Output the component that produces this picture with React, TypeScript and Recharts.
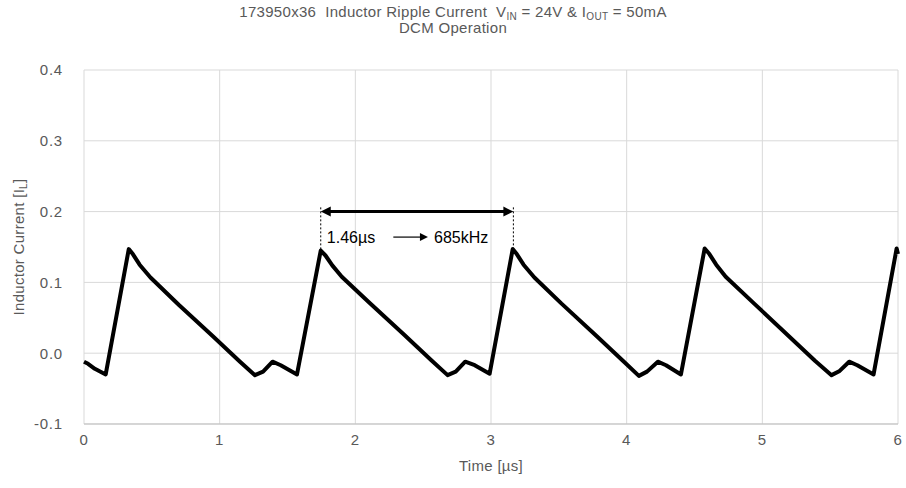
import React from "react";
import { LineChart, Line, XAxis, YAxis, CartesianGrid, ReferenceLine, ReferenceDot } from "recharts";

// waveform samples
const timeUs = [
	0, 0.03, 0.08, 0.16, 0.33, 0.36, 0.41, 0.49, 0.7, 0.95, 1.15, 1.26, 1.32, 1.39, 1.45, 1.57,
	1.745, 1.78, 1.83, 1.9, 2.1, 2.36, 2.56, 2.68, 2.74, 2.81, 2.88, 2.99,
	3.16, 3.19, 3.24, 3.32, 3.52, 3.78, 3.98, 4.09, 4.15, 4.23, 4.29, 4.4,
	4.575, 4.61, 4.66, 4.73, 4.94, 5.19, 5.39, 5.51, 5.57, 5.64, 5.7, 5.82,
	5.99, 6.0,
];
const currentA = [
	-0.012, -0.015, -0.022, -0.03, 0.147, 0.14, 0.125, 0.107, 0.068, 0.024, -0.012, -0.031, -0.026, -0.012, -0.017, -0.03,
	0.145, 0.138, 0.124, 0.108, 0.072, 0.026, -0.01, -0.031, -0.026, -0.012, -0.017, -0.029,
	0.147, 0.14, 0.125, 0.107, 0.07, 0.024, -0.012, -0.032, -0.026, -0.012, -0.017, -0.03,
	0.148, 0.14, 0.125, 0.108, 0.07, 0.025, -0.011, -0.031, -0.025, -0.012, -0.017, -0.03,
	0.148, 0.14,
];
const xTicks = [0, 1, 2, 3, 4, 5, 6];
const yTicks = [-0.1, 0, 0.1, 0.2, 0.3, 0.4];

// period marker
const periodStart = 1.745;
const periodEnd = 3.165;
const markerLevel = 0.2;
const peakLevel = 0.145;
const periodText = "1.46µs";
const freqText = "685kHz";

const data = timeUs.map((t, i) => ({ t, i: currentA[i] }));

const FONT = "'Liberation Sans', Arial, sans-serif";
const GREY = "#595959";

const DoubleArrow = (props: any) => {
	const { x1, y1, x2 } = props;
	const h = 10;
	const w = 5;
	return (
		<g>
			<line x1={x1 + h - 1} y1={y1} x2={x2 - h + 1} y2={y1} stroke='#000' strokeWidth={3} />
			<polygon points={`${x1},${y1} ${x1 + h},${y1 - w} ${x1 + h},${y1 + w}`} fill='#000' />
			<polygon points={`${x2},${y1} ${x2 - h},${y1 - w} ${x2 - h},${y1 + w}`} fill='#000' />
		</g>
	);
};

const SmallArrow = (props: any) => {
	const { x1, y1, x2 } = props;
	return (
		<g>
			<line x1={x1} y1={y1} x2={x2 - 6} y2={y1} stroke='#000' strokeWidth={1.2} />
			<polygon points={`${x2},${y1} ${x2 - 8},${y1 - 4} ${x2 - 8},${y1 + 4}`} fill='#000' />
		</g>
	);
};

const makeLabel = (text: string) => (props: any) => (
	<text x={props.cx} y={props.cy} dominantBaseline='central' fontFamily={FONT} fontSize={16} fill='#000'>
		{text}
	</text>
);

const subStyle = { fontSize: 10, position: "relative" as const, top: 3 };

export default function App() {
	return (
		<div style={{ position: "absolute", left: 0, top: 0, width: 906, height: 488, background: "#fff", fontFamily: FONT }}>
			<div
				style={{
					position: "absolute",
					top: 5,
					left: 0,
					width: 906,
					textAlign: "center",
					fontSize: 15,
					lineHeight: "14px",
					color: GREY,
					whiteSpace: "pre",
					letterSpacing: 0.3,
				}}
			>
				{"173950x36  Inductor Ripple Current  V"}
				<span style={subStyle}>IN</span>
				{" = 24V & I"}
				<span style={subStyle}>OUT</span>
				{" = 50mA"}
				<br />
				{"DCM Operation"}
			</div>
			<div
				style={{
					position: "absolute",
					left: 18,
					top: 247,
					transform: "translate(-50%, -50%) rotate(-90deg)",
					fontSize: 15,
					color: GREY,
					whiteSpace: "nowrap",
					letterSpacing: 0.3,
				}}
			>
				Inductor Current [I<span style={subStyle}>L</span>]
			</div>
			<div
				style={{
					position: "absolute",
					left: 491,
					top: 465,
					transform: "translate(-50%, -50%)",
					fontSize: 15,
					color: GREY,
					whiteSpace: "nowrap",
					letterSpacing: 0.3,
				}}
			>
				Time [µs]
			</div>
			<LineChart width={906} height={488} data={data} margin={{ top: 70, right: 8, bottom: 0, left: 0 }}>
				<CartesianGrid stroke='#d9d9d9' strokeWidth={1} />
				<XAxis
					dataKey='t'
					type='number'
					domain={[0, 6]}
					ticks={xTicks}
					height={64}
					tickSize={0}
					tickMargin={10}
					axisLine={{ stroke: "#bfbfbf" }}
					tick={{ fill: GREY, fontSize: 15, fontFamily: FONT, letterSpacing: 0.8 }}
				/>
				<YAxis
					type='number'
					domain={[-0.1, 0.4]}
					ticks={yTicks}
					width={84}
					tickSize={0}
					tickMargin={21}
					axisLine={false}
					tickFormatter={(v: number) => v.toFixed(1)}
					tick={{ fill: GREY, fontSize: 15, fontFamily: FONT, letterSpacing: 0.8 }}
				/>
				<ReferenceLine
					segment={[
						{ x: periodStart, y: markerLevel + 0.006 },
						{ x: periodStart, y: peakLevel },
					]}
					stroke='#000'
					strokeDasharray='2 2'
					strokeWidth={1}
				/>
				<ReferenceLine
					segment={[
						{ x: periodEnd, y: markerLevel + 0.006 },
						{ x: periodEnd, y: peakLevel },
					]}
					stroke='#000'
					strokeDasharray='2 2'
					strokeWidth={1}
				/>
				<Line
					type='linear'
					dataKey='i'
					stroke='#000'
					strokeWidth={4}
					strokeLinejoin='round'
					dot={false}
					activeDot={false}
					isAnimationActive={false}
				/>
				<ReferenceLine
					segment={[
						{ x: periodStart, y: markerLevel },
						{ x: periodEnd, y: markerLevel },
					]}
					shape={<DoubleArrow />}
				/>
				<ReferenceLine
					segment={[
						{ x: 2.28, y: 0.164 },
						{ x: 2.535, y: 0.164 },
					]}
					shape={<SmallArrow />}
				/>
				<ReferenceDot x={1.79} y={0.164} r={0} shape={makeLabel(periodText)} />
				<ReferenceDot x={2.58} y={0.164} r={0} shape={makeLabel(freqText)} />
			</LineChart>
		</div>
	);
}
